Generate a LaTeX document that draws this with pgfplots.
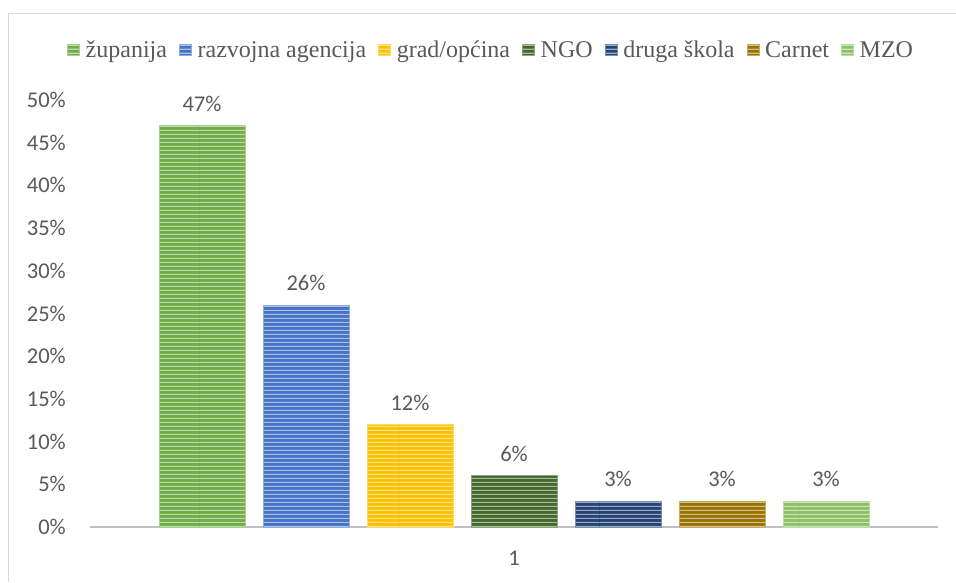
\documentclass[border=0pt]{standalone}
\usepackage{fontspec}
\setmainfont{Liberation Serif}
\newfontfamily\carlito{Carlito}
\usepackage{pgfplots}
\pgfplotsset{compat=1.18}
\usetikzlibrary{patterns.meta}
\definecolor{txt}{HTML}{595959}
\definecolor{framec}{HTML}{D9D9D9}
\definecolor{axisc}{HTML}{BFBFBF}
\definecolor{c1}{HTML}{70AD47}
\definecolor{c2}{HTML}{4472C4}
\definecolor{c3}{HTML}{FFC000}
\definecolor{c4}{HTML}{43682B}
\definecolor{c5}{HTML}{264478}
\definecolor{c6}{HTML}{997300}
\definecolor{c7}{HTML}{8CC168}
\tikzdeclarepattern{
  name=hstripes, type=uncolored,
  bounding box={(0pt,0pt) and (200pt,4pt)},
  tile size={(200pt,4pt)},
  code={\fill (0pt,0pt) rectangle (200pt,1.5pt);}
}
\pgfplotsset{
  stripe/.style={fill=#1, draw=#1!60!white, line width=0.6pt,
    postaction={pattern=hstripes, pattern color=#1!45!white},
    legend image code/.code={\draw[##1,draw=none] (0pt,-5pt) rectangle (12pt,6pt); \path (16pt,0pt);}},
}
\begin{document}
\begin{tikzpicture}[x=1pt,y=1pt]
\useasboundingbox (0,0) rectangle (956,582);
\draw[color=framec, line width=1pt] (8,0) -- (8,568) -- (956,568);
\begin{axis}[
  at={(90pt,55pt)}, anchor=south west,
  scale only axis, width=848pt, height=427pt,
  xmin=0, xmax=2, ymin=0, ymax=50,
  ybar=18pt, bar width=86pt,
  axis x line*=bottom, axis y line*=left,
  x axis line style={color=axisc, line width=2pt, -},
  y axis line style={draw=none},
  major tick length=0pt,
  xtick={1}, xticklabels={1},
  ytick={0,5,...,50},
  yticklabels={0\%,5\%,10\%,15\%,20\%,25\%,30\%,35\%,40\%,45\%,50\%},
  tick label style={font=\carlito\fontsize{22.5}{27}\selectfont, text=txt},
  yticklabel style={anchor=east, inner sep=0pt, xshift=-24pt},
  xticklabel style={anchor=north, inner sep=0pt, yshift=-24pt},
  legend columns=7,
  legend style={at={(0.473,1.117)}, anchor=center, draw=none,
    font=\fontsize{24}{28}\selectfont, text=txt,
    nodes={inner sep=2pt},
    /tikz/every even column/.append style={column sep=10pt}},
  nodes near coords={\carlito\pgfmathprintnumber[assume math mode=true]{\pgfplotspointmeta}\%},
  every node near coord/.append style={font=\carlito\fontsize{22.5}{27}\selectfont, text=txt, anchor=south, inner sep=0pt, yshift=14pt},
  clip=false,
]
\addplot[stripe=c1] coordinates {(1,47)};
\addplot[stripe=c2] coordinates {(1,26)};
\addplot[stripe=c3] coordinates {(1,12)};
\addplot[stripe=c4] coordinates {(1,6)};
\addplot[stripe=c5] coordinates {(1,3)};
\addplot[stripe=c6] coordinates {(1,3)};
\addplot[stripe=c7] coordinates {(1,3)};
\legend{županija, razvojna agencija, grad/općina, NGO, druga škola, Carnet, MZO}
\end{axis}
\end{tikzpicture}
\end{document}
